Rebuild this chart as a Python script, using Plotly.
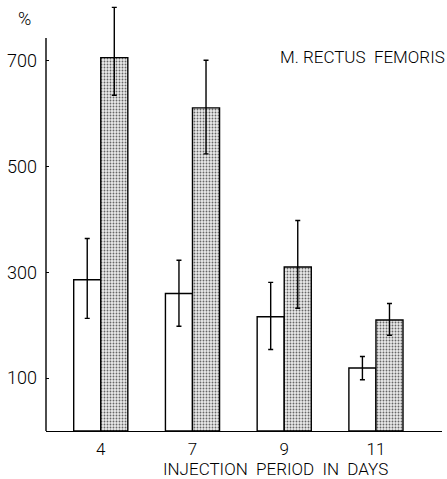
import plotly.graph_objects as go

# Injection period (days) and muscle values in % with error bars
periods = ["4", "7", "9", "11"]
control = [286, 260, 216, 119]
control_err_up = [78, 63, 65, 22]
control_err_down = [73, 62, 62, 22]
treated = [706, 611, 310, 210]
treated_err_up = [95, 90, 88, 31]
treated_err_down = [71, 87, 78, 29]
y_ticks = [100, 300, 500, 700]

FONT = "Roboto"
xpos = list(range(len(periods)))

fig = go.Figure()
fig.add_trace(go.Bar(
    x=xpos, y=control,
    marker=dict(color="white", line=dict(color="black", width=1.4)),
    error_y=dict(type="data", symmetric=False, array=control_err_up,
                 arrayminus=control_err_down, color="black",
                 thickness=1.4, width=2.5),
    showlegend=False,
))
fig.add_trace(go.Bar(
    x=xpos, y=treated,
    marker=dict(color="#d4d4d4", line=dict(color="black", width=1.4),
                pattern=dict(shape=".", size=3, solidity=0.3,
                             fgcolor="#666666", bgcolor="#eaeaea",
                             fillmode="replace")),
    error_y=dict(type="data", symmetric=False, array=treated_err_up,
                 arrayminus=treated_err_down, color="black",
                 thickness=1.4, width=2.5),
    showlegend=False,
))

fig.update_layout(
    width=447, height=479,
    margin=dict(l=46, r=5, t=0, b=48),
    paper_bgcolor="white", plot_bgcolor="white",
    barmode="group", bargap=0.41, bargroupgap=0,
    font=dict(family=FONT, color="black", size=18, weight=300),
    xaxis=dict(range=[-0.597, 3.72], tickvals=xpos, ticktext=periods,
               showgrid=False, zeroline=False, showline=True,
               linecolor="black", linewidth=1.4, ticks="",
               ticklabelstandoff=2, tickfont=dict(size=17)),
    yaxis=dict(range=[0, 815], tickvals=y_ticks, showgrid=False,
               zeroline=False, showline=False, ticks="inside",
               ticklen=3, tickwidth=1.2, tickcolor="black",
               ticklabelstandoff=8, tickfont=dict(size=18)),
    shapes=[dict(type="line", xref="paper", yref="y", x0=0, x1=0,
                 y0=0, y1=743, line=dict(color="black", width=1.4))],
    annotations=[
        dict(text="%", xref="paper", yref="paper", x=-0.055, y=0.957,
             showarrow=False, font=dict(size=18), xanchor="center",
             yanchor="middle"),
        dict(text="M. RECTUS  FEMORIS", xref="paper", yref="paper",
             x=1.012, y=0.868, showarrow=False, font=dict(size=17),
             xanchor="right", yanchor="middle"),
        dict(text="INJECTION  PERIOD  IN  DAYS", xref="x", yref="paper",
             x=1.90, y=-0.088, showarrow=False, font=dict(size=17),
             xanchor="center", yanchor="middle"),
    ],
)

fig.write_html("out.html")
